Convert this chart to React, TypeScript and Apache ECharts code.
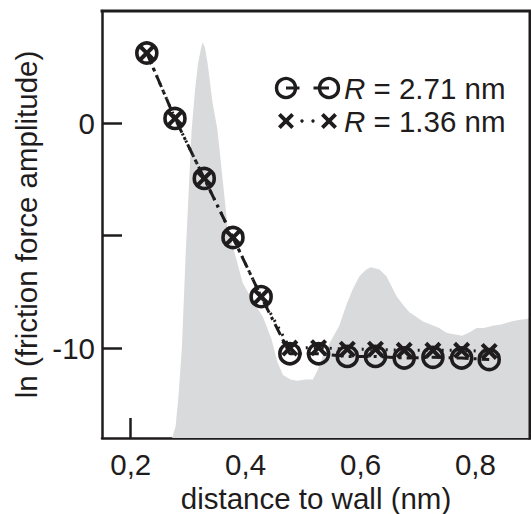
import React, { useEffect, useRef } from "react";
import * as echarts from "echarts";

// distance to wall (nm) for the measured points
const pointX = [0.228, 0.277, 0.328, 0.378, 0.427, 0.477, 0.527, 0.577, 0.626, 0.676, 0.726, 0.776, 0.824];
// ln amplitude, R = 2.71 nm (circles)
const circleY = [3.13, 0.22, -2.45, -5.08, -7.71, -10.25, -10.25, -10.37, -10.37, -10.44, -10.41, -10.44, -10.51];
// ln amplitude, R = 1.36 nm (crosses)
const crossY = [3.13, 0.22, -2.45, -5.08, -7.71, -10.0, -9.98, -10.05, -10.05, -10.1, -10.1, -10.1, -10.15];

// grey background profile
const areaX = [0.272, 0.278, 0.283, 0.289, 0.296, 0.300, 0.306, 0.312, 0.317, 0.322, 0.325, 0.329, 0.334, 0.342, 0.351, 0.360, 0.369, 0.377, 0.395, 0.415, 0.430, 0.445, 0.455, 0.465, 0.478, 0.490, 0.505, 0.517, 0.525, 0.534, 0.548, 0.563, 0.575, 0.586, 0.598, 0.610, 0.618, 0.625, 0.633, 0.645, 0.655, 0.663, 0.675, 0.685, 0.697, 0.708, 0.722, 0.737, 0.748, 0.755, 0.765, 0.777, 0.790, 0.802, 0.815, 0.830, 0.845, 0.864, 0.875, 0.889, 0.896];
const areaY = [-14.0, -13.5, -12.2, -10.0, -5.6, -3.5, -0.3, 1.5, 2.64, 3.3, 3.6, 3.4, 2.64, 1.0, -0.3, -2.5, -4.7, -5.4, -7.1, -8.0, -8.6, -9.6, -10.6, -11.2, -11.4, -11.45, -11.4, -11.4, -11.0, -10.4, -9.7, -9.0, -8.1, -7.4, -6.8, -6.5, -6.4, -6.45, -6.5, -6.8, -7.3, -7.7, -8.1, -8.4, -8.6, -8.8, -8.95, -9.1, -9.3, -9.35, -9.4, -9.45, -9.3, -9.1, -9.1, -9.0, -8.95, -8.8, -8.75, -8.7, -8.65];

const xTicks = [0.2, 0.4, 0.6, 0.8];
const yTicks = [-10, -5, 0];
const yLabels = [-10, 0];
const X_MIN = 0.15, X_MAX = 0.895, Y_MIN = -14, Y_MAX = 5;

const legendLabels = ["2.71", "1.36"];

const FONT = "'Liberation Sans', Arial, Helvetica, sans-serif";
const FS = 29.5;
const INK = "#1f1c1d";
const crossPts = [[0, 1.7], [1.7, 0], [5, 3.3], [8.3, 0], [10, 1.7], [6.7, 5], [10, 8.3], [8.3, 10], [5, 6.7], [1.7, 10], [0, 8.3], [3.3, 5]];
const crossPath = "path://M" + crossPts.map((p) => p.join(",")).join(" L") + " Z";

const W = 531, H = 514;
const G = { left: 102, top: 11, right: 1, bottom: 76 };

export default function App() {
  const ref = useRef<HTMLDivElement>(null);
  useEffect(() => {
    if (!ref.current) return;
    const chart = echarts.init(ref.current, null, { renderer: "svg" });
    const lx1 = 286, lx2 = 329, ly1 = 88, ly2 = 121, r = 9.5;
    chart.setOption({
      animation: false,
      grid: { ...G, containLabel: false, outerBoundsMode: "none" },
      xAxis: {
        type: "value", min: X_MIN, max: X_MAX,
        name: "distance to wall (nm)", nameLocation: "middle", nameGap: 42,
        nameTextStyle: { fontFamily: FONT, fontSize: FS, color: INK },
        axisLine: { show: true, onZero: false, lineStyle: { color: INK, width: 2.5 } },
        axisTick: { inside: true, length: 20, lineStyle: { color: INK, width: 2.5 }, customValues: xTicks },
        axisLabel: { customValues: xTicks, margin: 11, fontFamily: FONT, fontSize: FS, color: INK, formatter: (v: number) => v.toFixed(1).replace(".", ",") },
        splitLine: { show: false },
      },
      yAxis: {
        type: "value", min: Y_MIN, max: Y_MAX,
        name: "ln (friction force amplitude)", nameLocation: "middle", nameGap: 58,
        nameTextStyle: { fontFamily: FONT, fontSize: FS, color: INK },
        axisLine: { show: true, onZero: false, lineStyle: { color: INK, width: 2.5 } },
        axisTick: { inside: true, length: 20, lineStyle: { color: INK, width: 2.5 }, customValues: yTicks },
        axisLabel: { customValues: yLabels, margin: 7, fontFamily: FONT, fontSize: FS, color: INK },
        splitLine: { show: false },
      },
      series: [
        {
          type: "line",
          data: areaX.map((x, i) => [x, areaY[i]]), symbol: "none",
          lineStyle: { width: 0 }, areaStyle: { color: "#d9dadc", opacity: 1, origin: "start" }, z: 1,
        },
        {
          // top and right edges of the plot frame, placed through the axes' scales
          type: "line", name: "frame", clip: false, silent: true, symbol: "none", z: 10,
          data: [[X_MIN, Y_MAX], [X_MAX, Y_MAX], [X_MAX, Y_MIN]],
          lineStyle: { color: INK, width: 3, type: "solid", cap: "square", join: "miter" },
        },
        {
          type: "line", data: pointX.map((x, i) => [x, circleY[i]]), symbol: "circle", symbolSize: 20,
          lineStyle: { color: INK, width: 3, type: [12, 5, 3, 5] },
          itemStyle: { color: "rgba(0,0,0,0)", borderColor: INK, borderWidth: 3.6 }, z: 3,
        },
        {
          type: "line", data: pointX.map((x, i) => [x, crossY[i]]), symbol: crossPath, symbolSize: 17,
          lineStyle: { color: INK, width: 3, type: [2, 6] },
          itemStyle: { color: INK }, z: 4,
        },
      ],
      graphic: [
        { type: "circle", shape: { cx: lx1, cy: ly1, r }, style: { fill: "none", stroke: INK, lineWidth: 3.4 } },
        { type: "circle", shape: { cx: lx2, cy: ly1, r }, style: { fill: "none", stroke: INK, lineWidth: 3.4 } },
        { type: "line", shape: { x1: lx1, y1: ly1, x2: lx1 + r + 4, y2: ly1 }, style: { stroke: INK, lineWidth: 3 } },
        { type: "line", shape: { x1: lx2 - r - 6, y1: ly1, x2: lx2, y2: ly1 }, style: { stroke: INK, lineWidth: 3 } },
        { type: "polygon", shape: { points: crossPts }, x: lx1 - 8, y: ly2 - 8, scaleX: 1.6, scaleY: 1.6, style: { fill: INK } },
        { type: "polygon", shape: { points: crossPts }, x: lx2 - 8, y: ly2 - 8, scaleX: 1.6, scaleY: 1.6, style: { fill: INK } },
        { type: "circle", shape: { cx: 302, cy: ly2, r: 1.7 }, style: { fill: INK } },
        { type: "circle", shape: { cx: 313, cy: ly2, r: 1.7 }, style: { fill: INK } },
        {
          type: "text", x: 344, y: ly1,
          style: { text: `{i|R} = ${legendLabels[0]} nm`, fontFamily: FONT, fontSize: FS, fill: INK, verticalAlign: "middle", rich: { i: { fontStyle: "italic", fontFamily: FONT, fontSize: FS, fill: INK } } },
        },
        {
          type: "text", x: 344, y: ly2,
          style: { text: `{i|R} = ${legendLabels[1]} nm`, fontFamily: FONT, fontSize: FS, fill: INK, verticalAlign: "middle", rich: { i: { fontStyle: "italic", fontFamily: FONT, fontSize: FS, fill: INK } } },
        },
      ],
    });
    return () => chart.dispose();
  }, []);
  return <div ref={ref} style={{ width: W, height: H, position: "absolute", left: 0, top: 0 }} />;
}
